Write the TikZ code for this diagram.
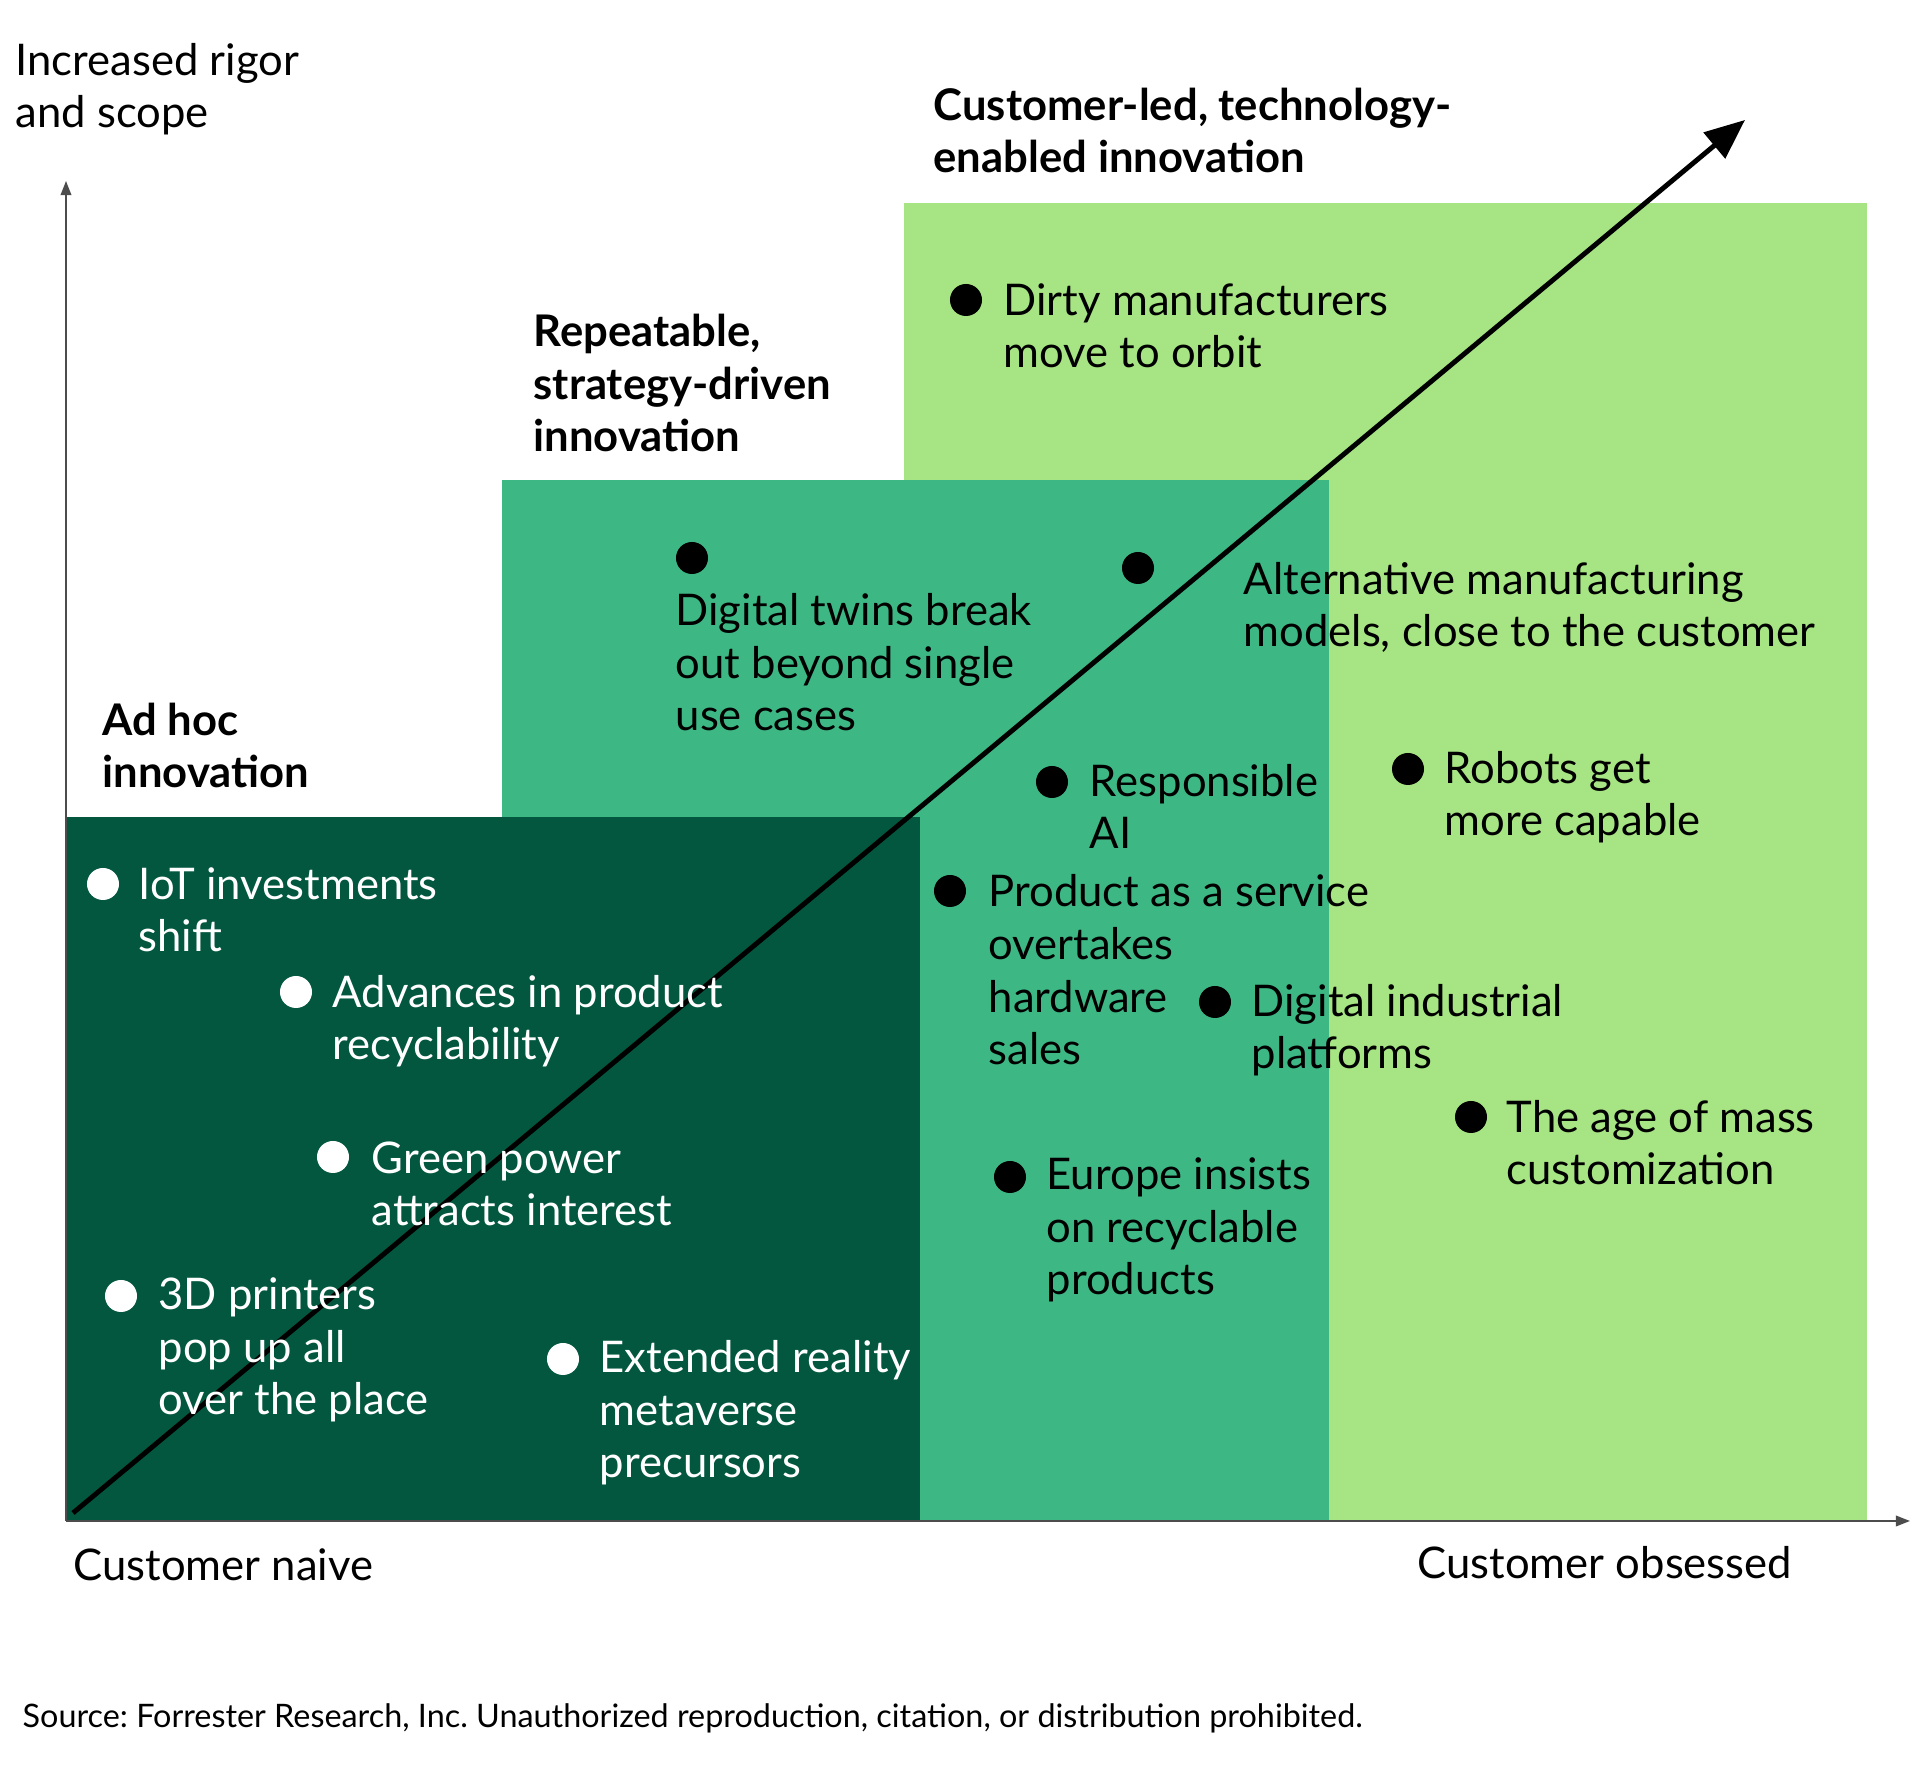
\documentclass[tikz,border=0pt]{standalone}
\usepackage{fontspec}
\setmainfont{Lato}
\usepackage{tikz}
\usetikzlibrary{arrows.meta}
\frenchspacing
\definecolor{darkgreen}{HTML}{03573F}
\definecolor{midgreen}{HTML}{3DB884}
\definecolor{lightgreen}{HTML}{A7E483}
\tikzstyle{dotw} = [fill=white, circle, inner sep=0pt, minimum size=3.2mm]
\tikzstyle{dotb} = [fill=black, circle, inner sep=0pt, minimum size=3.2mm]
\tikzstyle{item} = [anchor=base west, align=left, inner sep=0pt, font=\fontsize{12.4}{15}\selectfont]
\tikzstyle{itemw} = [item, text=white]
\tikzstyle{title} = [item, font=\fontsize{12.4}{15}\selectfont\bfseries]
\tikzstyle{axis} = [draw=black!70, line width=0.5pt, -{Triangle[length=4pt,width=3pt]}]

\begin{document}
\begin{tikzpicture}[x=0.01cm, y=-0.01cm]
                        \useasboundingbox (0,0) rectangle (1920,1780);
                        % stages
                        \fill[lightgreen] (904,203) rectangle (1867,1521);
                        \fill[midgreen] (502,480) rectangle (1329,1521);
                        \fill[darkgreen] (66,817) rectangle (920,1521);

                        \coordinate (O) at (66,1521);
                        \coordinate (Y) at (66,181);
                        \coordinate (X) at (1910,1521);
                        \draw[axis] (O) -- (Y);
                        \draw[axis] (O) -- (X);

                        \coordinate (A0) at (73,1513);
                        \coordinate (A1) at (1745,120);
                        \draw[line width=1.4pt, -{Triangle[length=0.4cm,width=0.33cm]}] (A0) -- (A1);

                        % base anchor = last line
                        \node[item] (L1) at (15,128) {Increased rigor\\and scope};
                        \node[item] (L2) at (73,1581) {Customer naive};
                        \node[item] (L3) at (1417,1579) {Customer obsessed};

                        \node[title] (S1) at (102,788) {Ad hoc\\innovation};
                        \node[title] (S2) at (533,452) {Repeatable,\\strategy-driven\\innovation};
                        \node[title] (S3) at (933,173) {Customer-led, technology-\\enabled innovation};

                        % ad hoc
                        \node[dotw] (D1) at (103,884) {};
                        \node[itemw] (T1) at (138,952) {IoT investments\\shift};
                        \node[dotw] (D2) at (296,992) {};
                        \node[itemw] (T2) at (332,1060) {Advances in product\\recyclability};
                        \node[dotw] (D3) at (333,1157) {};
                        \node[itemw] (T3) at (371,1226) {Green power\\attracts interest};
                        \node[dotw] (D4) at (121,1296) {};
                        \node[itemw] (T4) at (158,1415) {3D printers\\pop up all\\over the place};
                        \node[dotw] (D5) at (563,1359) {};
                        \node[itemw] (T5) at (599,1478) {Extended reality\\metaverse\\precursors};

                        % repeatable and customer-led
                        \node[dotb] (D6) at (692,558) {};
                        \node[item] (T6) at (675,731) {Digital twins break\\out beyond single\\use cases};
                        \node[dotb] (D7) at (966,300) {};
                        \node[item] (T7) at (1003,368) {Dirty manufacturers\\move to orbit};
                        \node[dotb] (D8) at (1138,568) {};
                        \node[item] (T8) at (1243,647) {Alternative manufacturing\\models, close to the customer};
                        \node[dotb] (D9) at (1052,782) {};
                        \node[item] (T9) at (1089,849) {Responsible\\AI};
                        \node[dotb] (D10) at (1408,769) {};
                        \node[item] (T10) at (1444,836) {Robots get\\more capable};
                        \node[dotb] (D11) at (950,891) {};
                        \node[item] (T11) at (988,1065) {Product as a service\\overtakes\\hardware\\sales};
                        \node[dotb] (D12) at (1215,1002) {};
                        \node[item] (T12) at (1251,1069) {Digital industrial\\platforms};
                        \node[dotb] (D13) at (1471,1117) {};
                        \node[item] (T13) at (1506,1185) {The age of mass\\customization};
                        \node[dotb] (D14) at (1010,1177) {};
                        \node[item] (T14) at (1046,1295) {Europe insists\\on recyclable\\products};

                        \node[item, font=\fontsize{9.2}{11}\selectfont] (SRC) at (22,1728) {Source: Forrester Research, Inc. Unauthorized reproduction, citation, or distribution prohibited.};
                    \end{tikzpicture}
\end{document}
